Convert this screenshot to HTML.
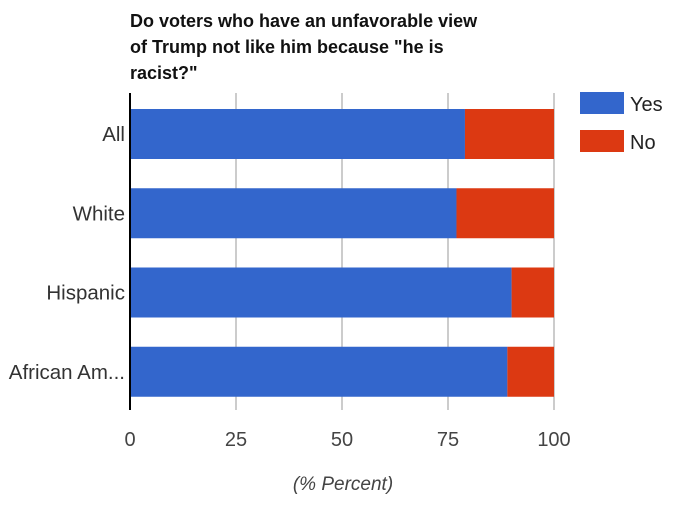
<!DOCTYPE html>
<html><head><meta charset="utf-8"><style>
body{margin:0;background:#fff;width:691px;height:510px;overflow:hidden;font-family:"Liberation Sans",sans-serif}
</style></head><body>
<svg width="691" height="510">
<text x="130" y="27" font-size="18" font-weight="bold" fill="#111"><tspan x="130">Do voters who have an unfavorable view</tspan><tspan x="130" dy="26">of Trump not like him because "he is</tspan><tspan x="130" dy="26">racist?"</tspan></text>
<g id="grid"></g><g id="bars"></g><g id="labels"></g>
<line x1="130" y1="93" x2="130" y2="410" stroke="#000" stroke-width="2"/>
<text x="343" y="490" font-size="19" font-style="italic" fill="#444" text-anchor="middle">(% Percent)</text>
<rect x="580" y="92" width="44" height="22" fill="#3366cc"/>
<text x="630" y="111" font-size="20" fill="#222">Yes</text>
<rect x="580" y="130" width="44" height="22" fill="#dc3912"/>
<text x="630" y="149" font-size="20" fill="#222">No</text>
</svg>
<script>
const categories=["All","White","Hispanic","African Am..."];
const yesValues=[79,77,90,89];
const noValues=[21,23,10,11];
const xTicks=[0,25,50,75,100];
const NS="http://www.w3.org/2000/svg";
const x=v=>130+v*4.24;
const bandTop=93,band=79.25;
const y=i=>bandTop+i*band+16;
const bh=50;
function mk(t,a,p){const e=document.createElementNS(NS,t);for(const k in a)e.setAttribute(k,a[k]);p.appendChild(e);return e;}
const g=document.getElementById('grid'),b=document.getElementById('bars'),l=document.getElementById('labels');
xTicks.forEach(t=>{
 if(t>0){const ln=mk('line',{x1:x(t),x2:x(t),y1:93,y2:410,stroke:'#ccc','stroke-width':2},g);
 
 }
 const tx=mk('text',{x:x(t),y:446,'font-size':20,fill:'#444','text-anchor':'middle'},l);tx.textContent=t;
 
 
});
categories.forEach((c,i)=>{
 const r1=mk('rect',{x:x(0),y:y(i),width:x(yesValues[i])-x(0),height:bh,fill:'#3366cc'},b);
 
 
 const r2=mk('rect',{x:x(yesValues[i]),y:y(i),width:x(yesValues[i]+noValues[i])-x(yesValues[i]),height:bh,fill:'#dc3912'},b);
 
 
 const tx=mk('text',{x:125,y:y(i)+bh/2+7,'font-size':20.5,fill:'#333','text-anchor':'end'},l);tx.textContent=c;
 
 
});
</script>
</body></html>
